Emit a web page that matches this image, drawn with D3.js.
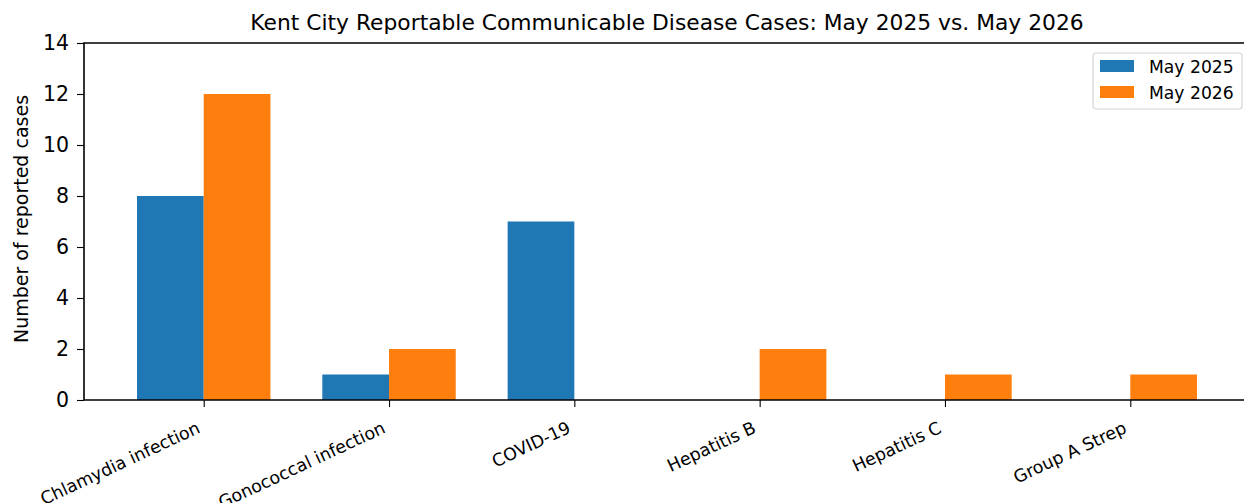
<!DOCTYPE html>
<html>
<head>
<meta charset="utf-8">
<script src="https://cdn.jsdelivr.net/npm/d3@7"></script>
<style>
  body { margin: 0; background: #fff; }
  svg { font-family: "DejaVu Sans", sans-serif; }
</style>
</head>
<body>
<div id="chart"></div>
<script>
(function () {
  'use strict';

  var categories = ['Chlamydia infection', 'Gonococcal infection', 'COVID-19',
                    'Hepatitis B', 'Hepatitis C', 'Group A Strep'];
  var seriesNames = ['May 2025', 'May 2026'];
  var may2025 = [8, 1, 7, 0, 0, 0];
  var may2026 = [12, 2, 0, 2, 1, 1];
  var yTicks = [0, 2, 4, 6, 8, 10, 12, 14];
  var colors = ['#1f77b4', '#ff7f0e'];

  var width = 1244, height = 503;
  var plot = { left: 84, right: 1250, top: 43, bottom: 400 };
  var barW = 0.36;

  var svg = d3.select('#chart').append('svg')
    .attr('width', width)
    .attr('height', height);

  // x in category units, matplotlib-like margins
  var x = d3.scaleLinear()
    .domain([-barW - 0.286, categories.length - 1 + barW + 0.286])
    .range([plot.left, plot.right]);
  var y = d3.scaleLinear().domain([0, 14]).range([plot.bottom, plot.top]);

  var series = [may2025, may2026];
  series.forEach(function (vals, s) {
    svg.append('g').selectAll('rect')
      .data(vals).enter()
      .append('rect')
      .attr('x', function (d, i) { return x(i + (s - 1) * barW); })
      .attr('width', x(barW) - x(0))
      .attr('y', function (d) { return y(d); })
      .attr('height', function (d) { return y(0) - y(d); })
      .attr('fill', colors[s]);
  });

  //--- axes
  var yAxis = d3.axisLeft(y).tickValues(yTicks).tickSize(7).tickPadding(8);
  var gy = svg.append('g')
    .attr('transform', 'translate(' + plot.left + ',0)')
    .call(yAxis);
  gy.select('.domain').remove();
  gy.selectAll('.tick line').attr('stroke', '#000').attr('stroke-width', 1.1);
  gy.selectAll('.tick text')
    .attr('font-size', '20.5px')
    .attr('font-family', 'DejaVu Sans')
    .attr('fill', '#000');

  var xAxis = d3.axisBottom(x)
    .tickValues(d3.range(categories.length))
    .tickFormat(function (d) { return categories[d]; })
    .tickSize(7);
  var gx = svg.append('g')
    .attr('transform', 'translate(0,' + plot.bottom + ')')
    .call(xAxis);
  gx.select('.domain').remove();
  gx.selectAll('.tick line').attr('stroke', '#000').attr('stroke-width', 1.1);
  gx.selectAll('.tick text')
    .attr('font-size', '17.4px')
    .attr('font-family', 'DejaVu Sans')
    .attr('fill', '#000')
    .attr('text-anchor', 'end')
    .attr('dy', null)
    .attr('y', 0)
    .attr('transform', 'translate(-3,32) rotate(-25)');

  //--- spines (left, bottom, top)
  svg.append('path')
    .attr('d', 'M' + plot.right + ',' + plot.top + 'H' + plot.left + 'V' + plot.bottom + 'H' + plot.right)
    .attr('fill', 'none')
    .attr('stroke', '#000')
    .attr('stroke-width', 1.6);

  //--- title and labels
  svg.append('text')
    .attr('x', (plot.left + plot.right) / 2)
    .attr('y', 30)
    .attr('text-anchor', 'middle')
    .attr('font-size', '21.8px')
    .attr('fill', '#000')
    .text('Kent City Reportable Communicable Disease Cases: May 2025 vs. May 2026');

  svg.append('text')
    .attr('transform', 'translate(28,' + 219 + ') rotate(-90)')
    .attr('text-anchor', 'middle')
    .attr('font-size', '19px')
    .attr('fill', '#000')
    .text('Number of reported cases');

  //--- legend
  var legend = svg.append('g').attr('transform', 'translate(1093,53)');
  legend.append('rect')
    .attr('width', 149).attr('height', 56)
    .attr('rx', 3).attr('ry', 3)
    .attr('fill', '#fff').attr('fill-opacity', 0.8)
    .attr('stroke', '#d5d5d5').attr('stroke-width', 1.2);
  var items = legend.selectAll('g.item')
    .data(seriesNames).enter()
    .append('g')
    .attr('class', 'item')
    .attr('transform', function (d, i) { return 'translate(7,' + (7 + i * 26) + ')'; });
  items.append('rect')
    .attr('width', 34).attr('height', 12)
    .attr('fill', function (d, i) { return colors[i]; });
  items.append('text')
    .attr('x', 49).attr('y', 12.5)
    .attr('font-size', '17.2px')
    .attr('fill', '#000')
    .text(function (d) { return d; });
})();
</script>
</body>
</html>
